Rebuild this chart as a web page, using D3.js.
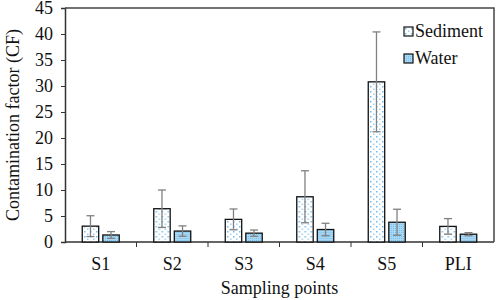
<!DOCTYPE html>
<html>
<head>
<meta charset="utf-8">
<script src="https://cdn.jsdelivr.net/npm/d3@7"></script>
<style>
  body { margin: 0; background: #fff; }
  svg { display: block; font-family: "Liberation Serif", "Times New Roman", serif; }
</style>
</head>
<body>
<div id="chart"></div>
<script>
const categories = ["S1", "S2", "S3", "S4", "S5", "PLI"];
const seriesNames = ["Sediment", "Water"];
const sediment = [3.05, 6.4, 4.35, 8.7, 30.8, 3.0];
const sedimentErr = [2.0, 3.6, 2.0, 5.0, 9.6, 1.5];
const water = [1.35, 2.1, 1.7, 2.4, 3.8, 1.5];
const waterErr = [0.65, 1.0, 0.6, 1.2, 2.5, 0.3];
const yTicks = [0, 5, 10, 15, 20, 25, 30, 35, 40, 45];

const width = 498, height = 300;
const margin = { top: 8, right: 4, bottom: 58, left: 65 };

const rows = categories.map((c, i) => ({
  cat: c,
  values: [
    { key: "Sediment", v: sediment[i], e: sedimentErr[i] },
    { key: "Water", v: water[i], e: waterErr[i] }
  ]
}));

const svg = d3.select("#chart").append("svg")
  .attr("width", width)
  .attr("height", height);

const defs = svg.append("defs");

// sediment: white with light blue dots
const p1 = defs.append("pattern")
  .attr("id", "pSed")
  .attr("patternUnits", "userSpaceOnUse")
  .attr("width", 6).attr("height", 5);
p1.append("rect").attr("width", 6).attr("height", 5).attr("fill", "#fff");
p1.append("rect").attr("x", 1).attr("y", 1).attr("width", 1.5).attr("height", 1.5).attr("fill", "#6fbbec");
p1.append("rect").attr("x", 4).attr("y", 3.5).attr("width", 1.5).attr("height", 1.5).attr("fill", "#9fd2f2");

// water: light blue with fine dots
const p2 = defs.append("pattern")
  .attr("id", "pWat")
  .attr("patternUnits", "userSpaceOnUse")
  .attr("width", 2).attr("height", 2);
p2.append("rect").attr("width", 2).attr("height", 2).attr("fill", "#a9d8f5");
p2.append("rect").attr("width", 1).attr("height", 1).attr("fill", "#78bfea");

const fills = { Sediment: "url(#pSed)", Water: "url(#pWat)" };

const x0 = d3.scaleBand()
  .domain(categories)
  .range([margin.left, width - margin.right]);

const x1 = d3.scaleBand()
  .domain(seriesNames)
  .range([0, x0.bandwidth()])
  .paddingInner(0.2)
  .paddingOuter(0.84);

const y = d3.scaleLinear()
  .domain([0, 45])
  .range([height - margin.bottom, margin.top]);

// y axis
const yAxis = svg.append("g")
  .attr("transform", `translate(${margin.left},0)`)
  .call(d3.axisLeft(y).tickValues(yTicks).tickSize(4).tickPadding(8));
yAxis.select(".domain").attr("stroke", "#333").attr("stroke-width", 1.5);
yAxis.selectAll(".tick line").attr("stroke", "#333");
yAxis.selectAll("text").attr("font-size", 18).attr("fill", "#111")
  .attr("font-family", "Liberation Serif");

// x axis with ticks on band boundaries
const xg = svg.append("g")
  .attr("transform", `translate(0,${y(0)})`);
xg.append("line")
  .attr("x1", margin.left).attr("x2", width - margin.right)
  .attr("stroke", "#333").attr("stroke-width", 1.5);
xg.selectAll("line.tk")
  .data(categories.slice(1))
  .join("line")
  .attr("class", "tk")
  .attr("x1", d => x0(d)).attr("x2", d => x0(d))
  .attr("y1", 0).attr("y2", 5)
  .attr("stroke", "#333");
xg.selectAll("text")
  .data(categories)
  .join("text")
  .attr("x", d => x0(d) + x0.bandwidth() / 2)
  .attr("y", 28)
  .attr("text-anchor", "middle")
  .attr("font-size", 18)
  .attr("fill", "#111")
  .text(d => d);

// frame top and right
svg.append("path")
  .attr("d", `M${margin.left},${margin.top}H${width - margin.right}V${y(0)}`)
  .attr("fill", "none")
  .attr("stroke", "#444")
  .attr("stroke-width", 1.5);

// bars
const groups = svg.append("g").selectAll("g")
  .data(rows)
  .join("g")
  .attr("transform", d => `translate(${x0(d.cat)},0)`);

groups.selectAll("rect")
  .data(d => d.values)
  .join("rect")
  .attr("x", d => x1(d.key))
  .attr("y", d => y(d.v))
  .attr("width", x1.bandwidth())
  .attr("height", d => y(0) - y(d.v))
  .attr("fill", d => fills[d.key])
  .attr("stroke", "#111")
  .attr("stroke-width", 1.3);

// error bars
const eb = groups.selectAll("g.err")
  .data(d => d.values)
  .join("g")
  .attr("class", "err")
  .attr("stroke", "#808080")
  .attr("stroke-width", 1.3);
eb.append("line")
  .attr("x1", d => x1(d.key) + x1.bandwidth() / 2)
  .attr("x2", d => x1(d.key) + x1.bandwidth() / 2)
  .attr("y1", d => y(d.v + d.e))
  .attr("y2", d => y(Math.max(0, d.v - d.e)));
eb.selectAll("line.cap")
  .data(d => [[d, d.v + d.e], [d, Math.max(0, d.v - d.e)]])
  .join("line")
  .attr("class", "cap")
  .attr("x1", d => x1(d[0].key) + x1.bandwidth() / 2 - 4)
  .attr("x2", d => x1(d[0].key) + x1.bandwidth() / 2 + 4)
  .attr("y1", d => y(d[1]))
  .attr("y2", d => y(d[1]));

// legend
const legend = svg.append("g")
  .attr("transform", "translate(404,27)");
const li = legend.selectAll("g")
  .data(seriesNames)
  .join("g")
  .attr("transform", (d, i) => `translate(0,${i * 27})`);
li.append("rect")
  .attr("width", 9).attr("height", 9)
  .attr("fill", d => fills[d])
  .attr("stroke", "#111")
  .attr("stroke-width", 1.2);
li.append("text")
  .attr("x", 11)
  .attr("y", 10)
  .attr("font-size", 18)
  .attr("fill", "#111")
  .text(d => d);

// axis titles
svg.append("text")
  .attr("x", (margin.left + width - margin.right) / 2)
  .attr("y", 294)
  .attr("text-anchor", "middle")
  .attr("font-size", 18)
  .attr("fill", "#111")
  .text("Sampling points");

svg.append("text")
  .attr("transform", `translate(19,${(margin.top + y(0)) / 2}) rotate(-90)`)
  .attr("text-anchor", "middle")
  .attr("font-size", 18)
  .attr("fill", "#111")
  .text("Contamination factor (CF)");
</script>
</body>
</html>
